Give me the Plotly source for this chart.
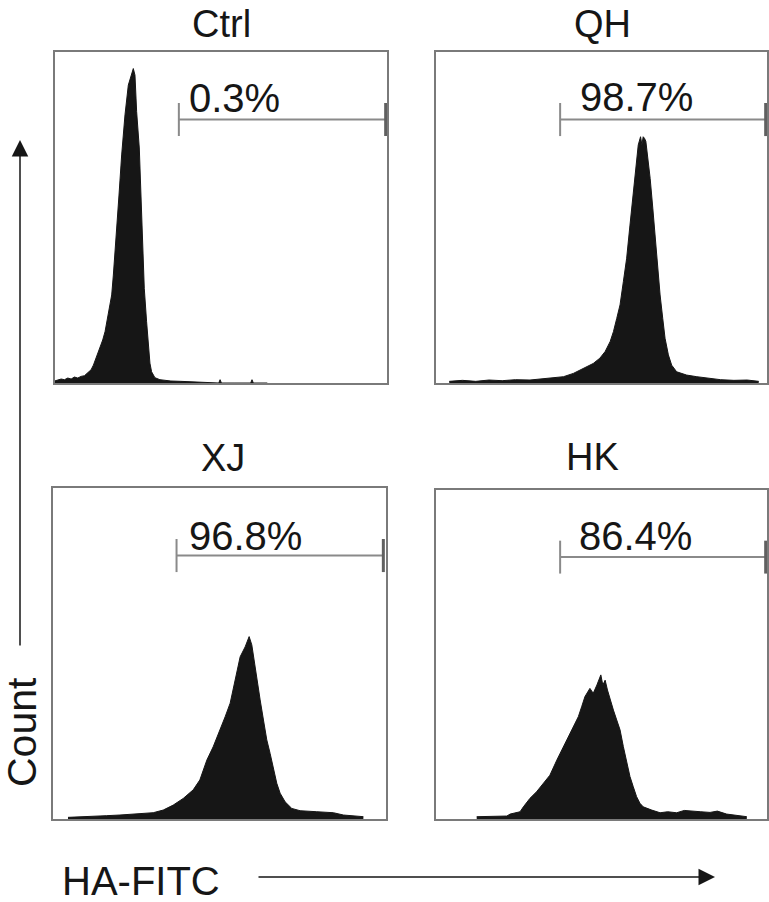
import plotly.graph_objects as go

# ---------------- data (channel 0-1000, relative count 0-100) ----------------
panel_names = ["Ctrl", "QH", "XJ", "HK"]
gate_labels = ["0.3%", "98.7%", "96.8%", "86.4%"]

ctrl_x = [0, 10, 20, 30, 40, 50, 60, 70, 80, 90, 100, 110, 117, 125, 137, 145, 152, 162,
          172, 177, 182, 187, 194, 202, 212, 222, 228, 232, 237, 242, 247, 255, 259, 263,
          267, 270, 277, 282, 287, 292, 302, 317, 330, 350, 380, 410, 438, 470, 494, 498,
          502, 540, 590, 594, 598, 640]
ctrl_y = [0.6, 0.8, 1.2, 1.0, 1.5, 1.2, 1.8, 1.5, 2.0, 2.2, 3.0, 4.0, 5.4, 7.5, 10.5, 13.0,
          15.5, 20.5, 26.6, 32.6, 40.7, 48.7, 56.8, 68.9, 81.0, 90.0, 92.0, 94.0, 95.0, 93.0,
          82.0, 71.0, 58.8, 46.7, 38.7, 28.6, 18.5, 11.5, 6.0, 3.4, 1.6, 1.0, 0.8, 0.6, 0.5,
          0.4, 0.3, 0.0, 0.0, 1.0, 0.0, 0.0, 0.0, 1.0, 0.0, 0.0]

qh_x = [40, 80, 120, 160, 200, 240, 284, 330, 385, 415, 445, 475, 495, 511, 526, 536, 546,
        556, 566, 576, 586, 594, 604, 611, 618, 622, 626, 630, 634, 638, 647, 655, 662, 669,
        677, 685, 692, 702, 712, 727, 757, 788, 820, 860, 900, 940, 975]
qh_y = [0.5, 0.8, 0.5, 0.9, 0.7, 1.0, 0.9, 1.4, 1.9, 2.9, 4.4, 5.9, 7.5, 9.5, 12.5, 15.5,
        19.5, 23.6, 30.6, 37.7, 47.7, 55.8, 64.9, 71.9, 74.4, 72.0, 74.4, 73.9, 73.0, 69.9,
        61.8, 52.8, 43.7, 34.7, 26.6, 19.5, 13.5, 8.5, 5.4, 3.4, 2.4, 1.9, 1.5, 1.0, 0.8,
        0.9, 0.5]

xj_x = [45, 80, 120, 160, 201, 261, 301, 331, 361, 391, 421, 441, 451, 462, 481, 502, 517,
        532, 541, 552, 562, 577, 589, 597, 602, 612, 622, 632, 642, 652, 662, 672, 682, 697,
        717, 742, 792, 842, 872, 932]
xj_y = [0.5, 0.6, 0.8, 1.0, 1.2, 1.5, 1.9, 2.7, 4.2, 6.2, 8.8, 11.8, 14.8, 17.8, 21.8, 26.9,
        30.9, 35.0, 39.0, 44.0, 49.0, 52.0, 55.1, 52.6, 49.0, 43.0, 36.0, 29.9, 23.9, 19.8,
        14.8, 10.8, 7.8, 5.2, 3.2, 2.5, 2.2, 1.9, 1.2, 0.7]

hk_x = [123, 170, 214, 224, 254, 264, 284, 304, 324, 344, 365, 380, 395, 415, 430, 440, 450,
        465, 475, 486, 493, 498, 504, 511, 518, 526, 536, 546, 556, 566, 576, 586, 596, 606,
        616, 626, 652, 677, 700, 727, 750, 777, 800, 828, 850, 878, 910, 939]
hk_y = [0.7, 0.7, 0.9, 1.5, 2.2, 3.7, 6.3, 8.3, 10.9, 13.3, 17.9, 21.0, 24.0, 28.0, 31.1,
        34.1, 37.2, 39.7, 38.2, 40.7, 42.2, 43.8, 40.7, 42.2, 39.2, 36.2, 33.1, 30.1, 27.1,
        22.0, 16.9, 12.9, 9.8, 6.8, 4.8, 3.7, 2.7, 1.9, 2.2, 1.9, 2.6, 2.5, 2.2, 2.0, 2.4,
        1.5, 1.0, 0.7]

# gate: start channel, end channel
gate_start = [374, 375, 371, 375]
gate_end = [996, 996, 992, 996]

series_x = [ctrl_x, qh_x, xj_x, hk_x]
series_y = [ctrl_y, qh_y, xj_y, hk_y]

# ---------------- layout ----------------
W, H = 769, 902
FONT = "Liberation Sans, Arial, Helvetica, sans-serif"
INK = "#161616"
BORDER = "#7a7a7a"

# panel pixel boxes: (left, right, top, bottom)
boxes = [(54.5, 387, 52, 383), (436, 767, 52, 383),
         (53, 386, 488, 819), (436, 767, 490, 819)]
title_pos = [(221, 24), (602, 24), (223, 458), (592, 457)]
label_pos = [(398, 86), (429, 86.5), (402, 85.5), (426, 86)]

fig = go.Figure()
layout = dict(width=W, height=H, margin=dict(l=0, r=0, t=0, b=0),
              paper_bgcolor="white", plot_bgcolor="white", showlegend=False,
              annotations=[], shapes=[])

for i in range(4):
    n = "" if i == 0 else str(i + 1)
    l, r, t, b = boxes[i]
    ax = dict(range=[0, 1000], showgrid=False, zeroline=False, showticklabels=False,
              ticks="", showline=True, mirror=True, linecolor=BORDER, linewidth=1.5,
              domain=[l / W, r / W], anchor="y" + n, fixedrange=True)
    ay = dict(range=[0, 100], showgrid=False, zeroline=False, showticklabels=False,
              ticks="", showline=True, mirror=True, linecolor=BORDER, linewidth=1.5,
              domain=[1 - b / H, 1 - t / H], anchor="x" + n, fixedrange=True)
    layout["xaxis" + n] = ax
    layout["yaxis" + n] = ay

    fig.add_trace(go.Scatter(x=series_x[i], y=series_y[i], mode="lines",
                             line=dict(color=INK, width=1), fill="tozeroy",
                             fillcolor=INK, xaxis="x" + n, yaxis="y" + n,
                             hoverinfo="skip"))

    # gate
    g_y = 79.6
    layout["shapes"] += [
        dict(type="line", xref="x" + n, yref="y" + n, x0=gate_start[i], x1=gate_end[i],
             y0=g_y, y1=g_y, line=dict(color="#8a8a8a", width=2)),
        dict(type="line", xref="x" + n, yref="y" + n, x0=gate_start[i], x1=gate_start[i],
             y0=g_y - 5, y1=g_y + 5, line=dict(color="#8a8a8a", width=2)),
        dict(type="line", xref="x" + n, yref="y" + n, x0=gate_end[i], x1=gate_end[i],
             y0=g_y - 5, y1=g_y + 5, line=dict(color="#606060", width=3)),
    ]
    layout["annotations"].append(dict(
        xref="x" + n, yref="y" + n, x=label_pos[i][0], y=label_pos[i][1],
        text=gate_labels[i], showarrow=False, xanchor="left", yanchor="middle",
        font=dict(family=FONT, size=40, color=INK)))
    # title
    tx, ty = title_pos[i]
    layout["annotations"].append(dict(
        xref="paper", yref="paper", x=tx / W, y=1 - ty / H, text=panel_names[i],
        showarrow=False, xanchor="center", yanchor="middle",
        font=dict(family=FONT, size=38, color=INK)))

# axis titles and arrows
layout["annotations"] += [
    dict(xref="paper", yref="paper", x=22 / W, y=1 - 732 / H, text="Count",
         textangle=-90, showarrow=False, xanchor="center", yanchor="middle",
         font=dict(family=FONT, size=41, color=INK)),
    dict(xref="paper", yref="paper", x=141 / W, y=1 - 881 / H, text="HA-FITC",
         showarrow=False, xanchor="center", yanchor="middle",
         font=dict(family=FONT, size=40, color=INK)),
    dict(xref="paper", yref="paper", x=20 / W, y=1 - 140 / H, text="",
         showarrow=True, ax=0, ay=507, axref="pixel", ayref="pixel",
         arrowhead=2, arrowsize=2.2, arrowwidth=1.5, arrowcolor=INK),
    dict(xref="paper", yref="paper", x=715 / W, y=1 - 877 / H, text="",
         showarrow=True, ax=-458, ay=0, axref="pixel", ayref="pixel",
         arrowhead=2, arrowsize=2.2, arrowwidth=1.5, arrowcolor=INK),
]

fig.update_layout(**layout)
fig.write_html("out.html", config={"displayModeBar": False},
               post_script="document.body.style.margin='0';"
                           "document.body.style.overflow='hidden';")
